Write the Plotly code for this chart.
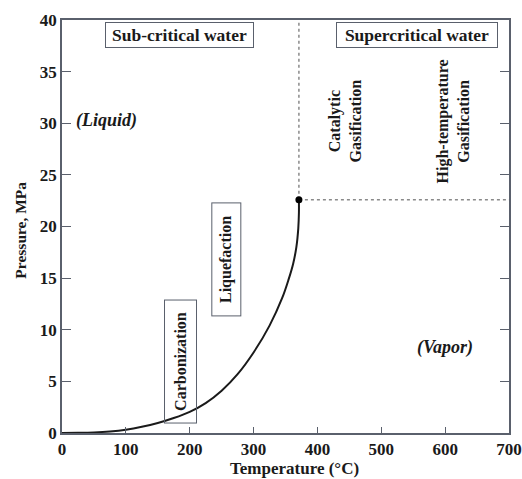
import plotly.graph_objects as go

# Liquid–vapour saturation curve of water (temperature °C, pressure MPa)
sat_temp = [0, 25, 50, 75, 100, 125, 150, 175, 200, 225, 250, 275, 300, 325, 345, 355, 362, 367, 370, 371, 371]
sat_pres = [0, 0.02, 0.06, 0.15, 0.32, 0.6, 0.97, 1.45, 2.05, 2.9, 4.1, 5.7, 7.8, 10.4, 13.1, 14.9, 16.4, 18.0, 19.8, 21.3, 22.6]

# Critical point
crit_temp = 371
crit_pres = 22.6

x_max = 700
y_max = 40
x_ticks = [0, 100, 200, 300, 400, 500, 600, 700]
y_ticks = [0, 5, 10, 15, 20, 25, 30, 35, 40]

SERIF = "Liberation Serif"
AXIS_COLOR = "#5a606c"
TEXT_COLOR = "#1a1a1a"

fig = go.Figure()

# critical isotherm and isobar (dotted)
fig.add_trace(go.Scatter(
    x=[crit_temp, crit_temp], y=[crit_pres, y_max], mode="lines",
    line=dict(color="#8a8a8a", width=1.5, dash="dot"), hoverinfo="skip"))
fig.add_trace(go.Scatter(
    x=[crit_temp, x_max], y=[crit_pres, crit_pres], mode="lines",
    line=dict(color="#8a8a8a", width=1.5, dash="dot"), hoverinfo="skip"))

# saturation curve
fig.add_trace(go.Scatter(
    x=sat_temp, y=sat_pres, mode="lines",
    line=dict(color=TEXT_COLOR, width=2, shape="spline", smoothing=1.0)))

# critical point marker
fig.add_trace(go.Scatter(
    x=[crit_temp], y=[crit_pres], mode="markers",
    marker=dict(color="black", size=7)))

flat_font = dict(family=SERIF, size=17.5, color=TEXT_COLOR, weight="bold")
rot_font = dict(family=SERIF, size=16, color=TEXT_COLOR, weight="bold")
italic_font = dict(family=SERIF, size=18, color=TEXT_COLOR, weight="bold", style="italic")
title_font = dict(family=SERIF, size=17, color=TEXT_COLOR, weight="bold")

annotations = [
    dict(x=184.7, y=38.5, text="Sub-critical water", font=flat_font,
         bordercolor=AXIS_COLOR, borderwidth=1, borderpad=0, width=147, height=24),
    dict(x=556, y=38.5, text="Supercritical water", font=flat_font,
         bordercolor=AXIS_COLOR, borderwidth=1, borderpad=0, width=160, height=24),
    dict(x=70, y=30.3, text="(Liquid)", font=italic_font),
    dict(x=600, y=8.3, text="(Vapor)", font=italic_font),
    dict(x=443.6, y=30.2, text="Catalytic<br>Gasification", font=rot_font, textangle=-90),
    dict(x=612.8, y=30.2, text="High-temperature<br>Gasification", font=rot_font, textangle=-90),
    dict(x=256.6, y=16.8, text="Liquefaction", font=rot_font, textangle=-90,
         bordercolor=AXIS_COLOR, borderwidth=1, borderpad=0, width=112, height=28),
    dict(x=186, y=6.9, text="Carbonization", font=rot_font, textangle=-90,
         bordercolor=AXIS_COLOR, borderwidth=1, borderpad=0, width=122, height=31),
]
for a in annotations:
    a.update(xref="x", yref="y", showarrow=False, align="center")

# axis titles
annotations += [
    dict(text="Temperature (°C)", font=title_font, xref="paper", yref="paper",
         x=0.52, y=0, yanchor="middle", yshift=-35, showarrow=False),
    dict(text="Pressure, MPa", font=dict(title_font, size=15.5), textangle=-90,
         xref="paper", yref="paper", x=0, y=0.49, xanchor="center", xshift=-41,
         showarrow=False),
]

fig.update_layout(
    width=522, height=479,
    margin=dict(l=62, r=13, t=20, b=46),
    paper_bgcolor="white", plot_bgcolor="white",
    showlegend=False,
    annotations=annotations,
    font=dict(family=SERIF, color=TEXT_COLOR),
)

fig.update_xaxes(
    range=[0, x_max], tickvals=x_ticks, ticks="inside", ticklen=6, tickwidth=1,
    tickcolor=AXIS_COLOR, showline=True, linecolor=AXIS_COLOR, linewidth=1.5,
    mirror=True, showgrid=False, zeroline=False, ticklabeloverflow="allow",
    automargin=False,
    tickfont=dict(family=SERIF, size=17, color=TEXT_COLOR, weight="bold"),
)
fig.update_yaxes(
    range=[0, y_max], tickvals=y_ticks, ticks="inside", ticklen=9, tickwidth=1,
    tickcolor=AXIS_COLOR, showline=True, linecolor=AXIS_COLOR, linewidth=1.5,
    mirror="ticks", showgrid=False, zeroline=False, automargin=False,
    tickfont=dict(family=SERIF, size=17, color=TEXT_COLOR, weight="bold"),
)

fig.write_html("out.html")
